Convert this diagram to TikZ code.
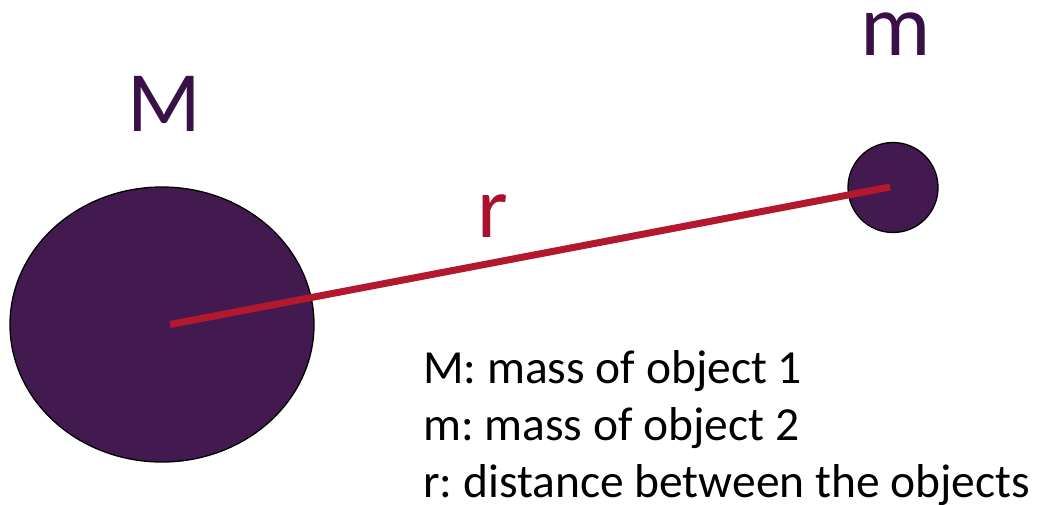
\documentclass[tikz,border=0pt]{standalone}
\usepackage{fontspec}
\setmainfont{Carlito}
\usetikzlibrary{shapes.geometric}
\definecolor{massfill}{HTML}{431A50}
\definecolor{masstext}{HTML}{3A1048}
\definecolor{rline}{HTML}{B4182E}
\definecolor{rtext}{HTML}{A8102C}
\tikzset{
  body/.style={draw=black, line width=1.3pt, fill=massfill, inner sep=0pt},
  biglabel/.style={anchor=base west, inner sep=0pt, text height=50pt, text depth=0pt, font=\fontsize{88}{100}\selectfont},
  legend/.style={anchor=base west, inner sep=0pt, text depth=0pt, font=\frenchspacing\fontsize{47.5}{57}\selectfont, text=black},
  distline/.style={draw=rline, line width=7pt, line cap=butt}
}
\begin{document}
\frenchspacing
\begin{tikzpicture}[x=1pt, y=-1pt]
\useasboundingbox (0,0) rectangle (1040,504);
\fill[white] (0,0) rectangle (1040,504);
\node[body, ellipse, minimum width=304pt, minimum height=275pt] (bigM) at (162,324.5) {};
\node[body, circle, minimum size=90pt] (smallm) at (893,187.5) {};
\draw[distline] ([xshift=8pt]bigM.center) -- ([xshift=-3pt, yshift=0.5pt]smallm.center);
\node[biglabel, text=masstext, font=\fontsize{86}{100}\selectfont] (labM) at (127,131) {M};
\node[biglabel, text=masstext, text height=40pt] (labm) at (860,55) {m};
\node[biglabel, text=rtext, text height=40pt] (labr) at (477,237) {r};
\node[legend] (l1) at (423,383) {M: mass of object 1};
\node[legend] (l2) at (423,440) {m: mass of object 2};
\node[legend] (l3) at (423,497) {r: distance between the objects};
\end{tikzpicture}
\end{document}
